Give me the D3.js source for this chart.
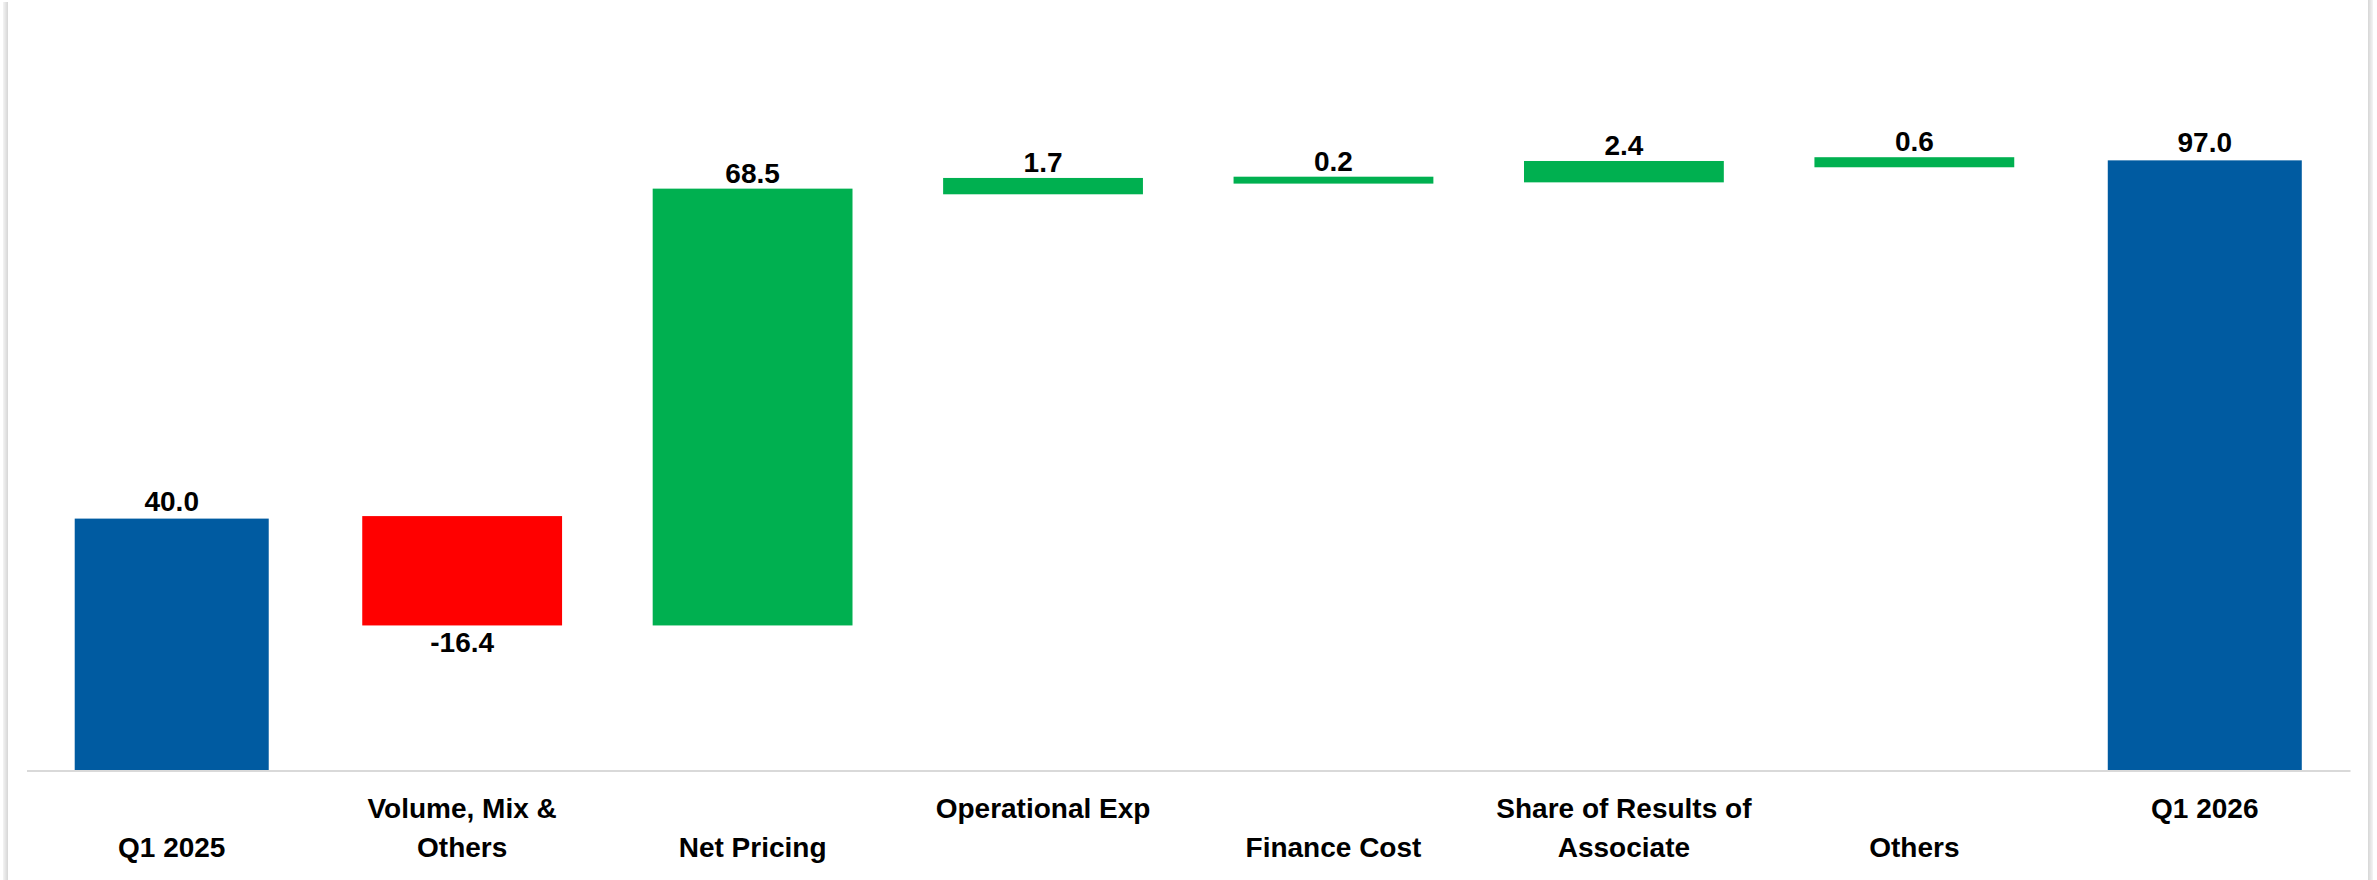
<!DOCTYPE html>
<html>
<head>
<meta charset="utf-8">
<script src="https://cdn.jsdelivr.net/npm/d3@7"></script>
<style>
  body { margin: 0; background: #fff; }
  svg { display: block; }
  text { font-family: "Liberation Sans", Arial, sans-serif; font-weight: bold; fill: #000; }
</style>
</head>
<body>
<svg id="chart" width="2377" height="880"></svg>
<script>
// ---- data ----
const categories = ["Q1 2025", "Volume, Mix & Others", "Net Pricing", "Operational Exp",
                    "Finance Cost", "Share of Results of Associate", "Others", "Q1 2026"];
// label lines as displayed (first line, second line)
const labelLine1 = ["", "Volume, Mix &", "", "Operational Exp", "", "Share of Results of", "", "Q1 2026"];
const labelLine2 = ["Q1 2025", "Others", "Net Pricing", "", "Finance Cost", "Associate", "Others", ""];
const kinds = ["total", "decrease", "increase", "increase", "increase", "increase", "increase", "total"];
const values = [40.0, -16.4, 68.5, 1.7, 0.2, 2.4, 0.6, 97.0];
// bar extents as drawn in the picture
const barLow  = [0, 23.0, 23.0, 91.6, 93.3, 93.5, 95.9, 0];
const barHigh = [40.0, 40.4, 92.5, 94.2, 94.4, 96.9, 97.5, 97.0];

const colors = { total: "#005BA1", decrease: "#FF0000", increase: "#00B050" };

const W = 2377, H = 880;
const svg = d3.select("#chart");
svg.append("rect").attr("width", W).attr("height", H).attr("fill", "#fff");

// frame shadows
const defs = svg.append("defs");
const gl = defs.append("linearGradient").attr("id", "gl").attr("x1", "0").attr("x2", "1");
gl.append("stop").attr("offset", "0").attr("stop-color", "#f4f4f4");
gl.append("stop").attr("offset", "1").attr("stop-color", "#d6d6d6");
const gr = defs.append("linearGradient").attr("id", "gr").attr("x1", "0").attr("x2", "1");
gr.append("stop").attr("offset", "0").attr("stop-color", "#d6d6d6");
gr.append("stop").attr("offset", "1").attr("stop-color", "#f4f4f4");
svg.append("rect").attr("x", 3).attr("y", 2).attr("width", 5).attr("height", H).attr("fill", "url(#gl)");
svg.append("rect").attr("x", 2368).attr("y", 0).attr("width", 5).attr("height", H).attr("fill", "url(#gr)");

// scales
const x = d3.scaleBand().domain(d3.range(categories.length)).range([26.5, 2350]).padding(0);
const y = d3.scaleLinear().domain([0, 120]).range([770, 770 - 120 * 6.285]);

// axis line
const axis = d3.axisBottom(x).tickSize(0).tickSizeOuter(0).tickFormat("");
const ag = svg.append("g").attr("transform", "translate(0,770.5)").call(axis);
ag.select(".domain").attr("stroke", "#d9d9d9").attr("stroke-width", 2);

const widthFrac = { total: 0.668, decrease: 0.688, increase: 0.688 };
const data = categories.map((c, i) => ({
  i, c, kind: kinds[i], v: values[i], lo: barLow[i], hi: barHigh[i]
}));

const cx = d => x(d.i) + x.bandwidth() / 2;

// bars
svg.append("g").selectAll("rect").data(data).join("rect")
  .attr("x", d => cx(d) - x.bandwidth() * widthFrac[d.kind] / 2)
  .attr("width", d => x.bandwidth() * widthFrac[d.kind])
  .attr("y", d => y(d.hi))
  .attr("height", d => y(d.lo) - y(d.hi))
  .attr("fill", d => colors[d.kind]);

// value labels (ASCII hyphen for negatives, as in the reference)
const fmt = v => v.toFixed(1);
svg.append("g").selectAll("text").data(data).join("text")
  .attr("x", cx)
  .attr("y", d => d.v < 0 ? y(d.lo) + 27 : y(d.hi) - (d.kind === "total" ? 8 : 6))
  .attr("text-anchor", "middle")
  .attr("font-size", 28)
  .text(d => fmt(d.v));

// category labels
const cl = svg.append("g").selectAll("text").data(data).join("text")
  .attr("text-anchor", "middle")
  .attr("font-size", 28);
cl.append("tspan").attr("x", cx).attr("y", 818).text(d => labelLine1[d.i]);
cl.append("tspan").attr("x", cx).attr("y", 857).text(d => labelLine2[d.i]);
</script>
</body>
</html>
